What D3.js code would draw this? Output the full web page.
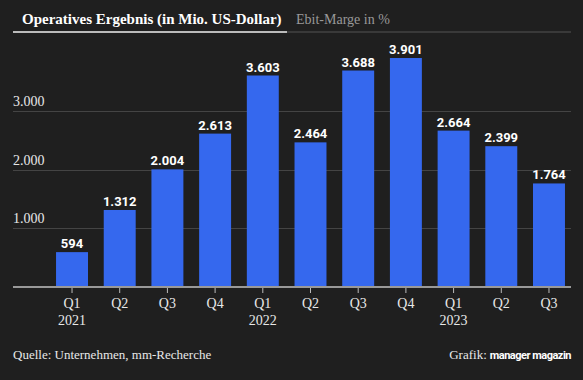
<!DOCTYPE html>
<html>
<head>
<meta charset="utf-8">
<script src="https://cdn.jsdelivr.net/npm/d3@7"></script>
<style>
  html, body { margin: 0; padding: 0; background: #1f1f1f; }
  svg { display: block; }
</style>
</head>
<body>
<script>
const quarters = ["Q1","Q2","Q3","Q4","Q1","Q2","Q3","Q4","Q1","Q2","Q3"];
const years    = ["2021","","","","2022","","","","2023","",""];
const values   = [594, 1312, 2004, 2613, 3603, 2464, 3688, 3901, 2664, 2399, 1764];
const yTicks   = [1000, 2000, 3000];
const tabs     = ["Operatives Ergebnis (in Mio. US-Dollar)", "Ebit-Marge in %"];
const source   = "Quelle: Unternehmen, mm-Recherche";

const W = 583, H = 380;
const serif = "'Liberation Serif', 'DejaVu Serif', serif";
const sans = "Roboto, 'Liberation Sans', sans-serif";
const fmt = d3.formatLocale({decimal: ",", thousands: ".", grouping: [3], currency: ["", "€"]}).format(",d");

const svg = d3.select("body").append("svg").attr("width", W).attr("height", H);
svg.append("rect").attr("width", W).attr("height", H).attr("fill", "#1f1f1f");

const idx = d3.range(values.length);
const x = d3.scaleBand().domain(idx).range([40.3, 580.7]).paddingInner(0.33).paddingOuter(0.33);
const y = d3.scaleLinear().domain([0, 4000]).range([287, 52.2]);

// tabs
svg.append("line").attr("x1", 287).attr("x2", 571).attr("y1", 32).attr("y2", 32)
  .attr("stroke", "#555").attr("stroke-width", 1);
svg.append("line").attr("x1", 13).attr("x2", 287).attr("y1", 32).attr("y2", 32)
  .attr("stroke", "#bbb").attr("stroke-width", 2);
svg.append("text").attr("x", 22).attr("y", 24).text(tabs[0])
  .attr("font-family", serif).attr("font-weight", "bold").attr("font-size", 15).attr("fill", "#fff");
svg.append("text").attr("x", 296).attr("y", 24).text(tabs[1])
  .attr("font-family", serif).attr("font-size", 14).attr("fill", "#999");

// grid
const grid = svg.append("g");
grid.selectAll("line").data(yTicks).join("line")
  .attr("x1", 13).attr("x2", 571)
  .attr("y1", d => Math.round(y(d)) + 0.5).attr("y2", d => Math.round(y(d)) + 0.5)
  .attr("stroke", "#444");
grid.selectAll("text").data(yTicks).join("text")
  .attr("x", 13).attr("y", d => y(d) - 5)
  .text(d => fmt(d))
  .attr("font-family", serif).attr("font-size", 14).attr("fill", "#e8e8e8");

// bars
svg.append("g").selectAll("rect").data(idx).join("rect")
  .attr("x", i => x(i)).attr("width", x.bandwidth())
  .attr("y", i => y(values[i])).attr("height", i => y(0) - y(values[i]))
  .attr("fill", "#3568ee");

// value labels
svg.append("g").selectAll("text").data(idx).join("text")
  .attr("x", i => x(i) + x.bandwidth() / 2).attr("y", i => y(values[i]) - 4)
  .attr("text-anchor", "middle")
  .text(i => fmt(values[i]))
  .attr("font-family", sans).attr("font-weight", "bold").attr("font-size", 13).attr("fill", "#fff");

// x axis
const xAxis = d3.axisBottom(x).tickSize(6).tickFormat("");
const ax = svg.append("g").attr("transform", `translate(0,${y(0)})`).call(xAxis);
ax.select(".domain").remove();
ax.selectAll(".tick line").attr("stroke", "#bbb");
svg.append("line").attr("x1", 13).attr("x2", 571).attr("y1", y(0)).attr("y2", y(0))
  .attr("stroke", "#999").attr("stroke-width", 2);
const lbl = svg.append("g");
lbl.selectAll("text.q").data(idx).join("text").attr("class", "q")
  .attr("x", i => x(i) + x.bandwidth() / 2).attr("y", 308)
  .attr("text-anchor", "middle").text(i => quarters[i])
  .attr("font-family", serif).attr("font-size", 14).attr("fill", "#e8e8e8");
lbl.selectAll("text.y").data(idx.filter(i => years[i])).join("text").attr("class", "y")
  .attr("x", i => x(i) + x.bandwidth() / 2).attr("y", 325)
  .attr("text-anchor", "middle").text(i => years[i])
  .attr("font-family", serif).attr("font-size", 14).attr("fill", "#e8e8e8");

// footer
svg.append("text").attr("x", 13).attr("y", 359).text(source)
  .attr("font-family", serif).attr("font-size", 13).attr("fill", "#e8e8e8");
const logo = svg.append("text").attr("x", 571).attr("y", 359).attr("text-anchor", "end")
  .attr("font-family", sans).attr("font-weight", "bold").attr("font-size", 11)
  .attr("letter-spacing", -0.5).attr("fill", "#fff").text("manager magazin");
const logoW = logo.node().getComputedTextLength();
svg.append("text").attr("x", 571 - logoW - 3).attr("y", 359).attr("text-anchor", "end").text("Grafik:")
  .attr("font-family", serif).attr("font-size", 13).attr("fill", "#e8e8e8");
</script>
</body>
</html>
